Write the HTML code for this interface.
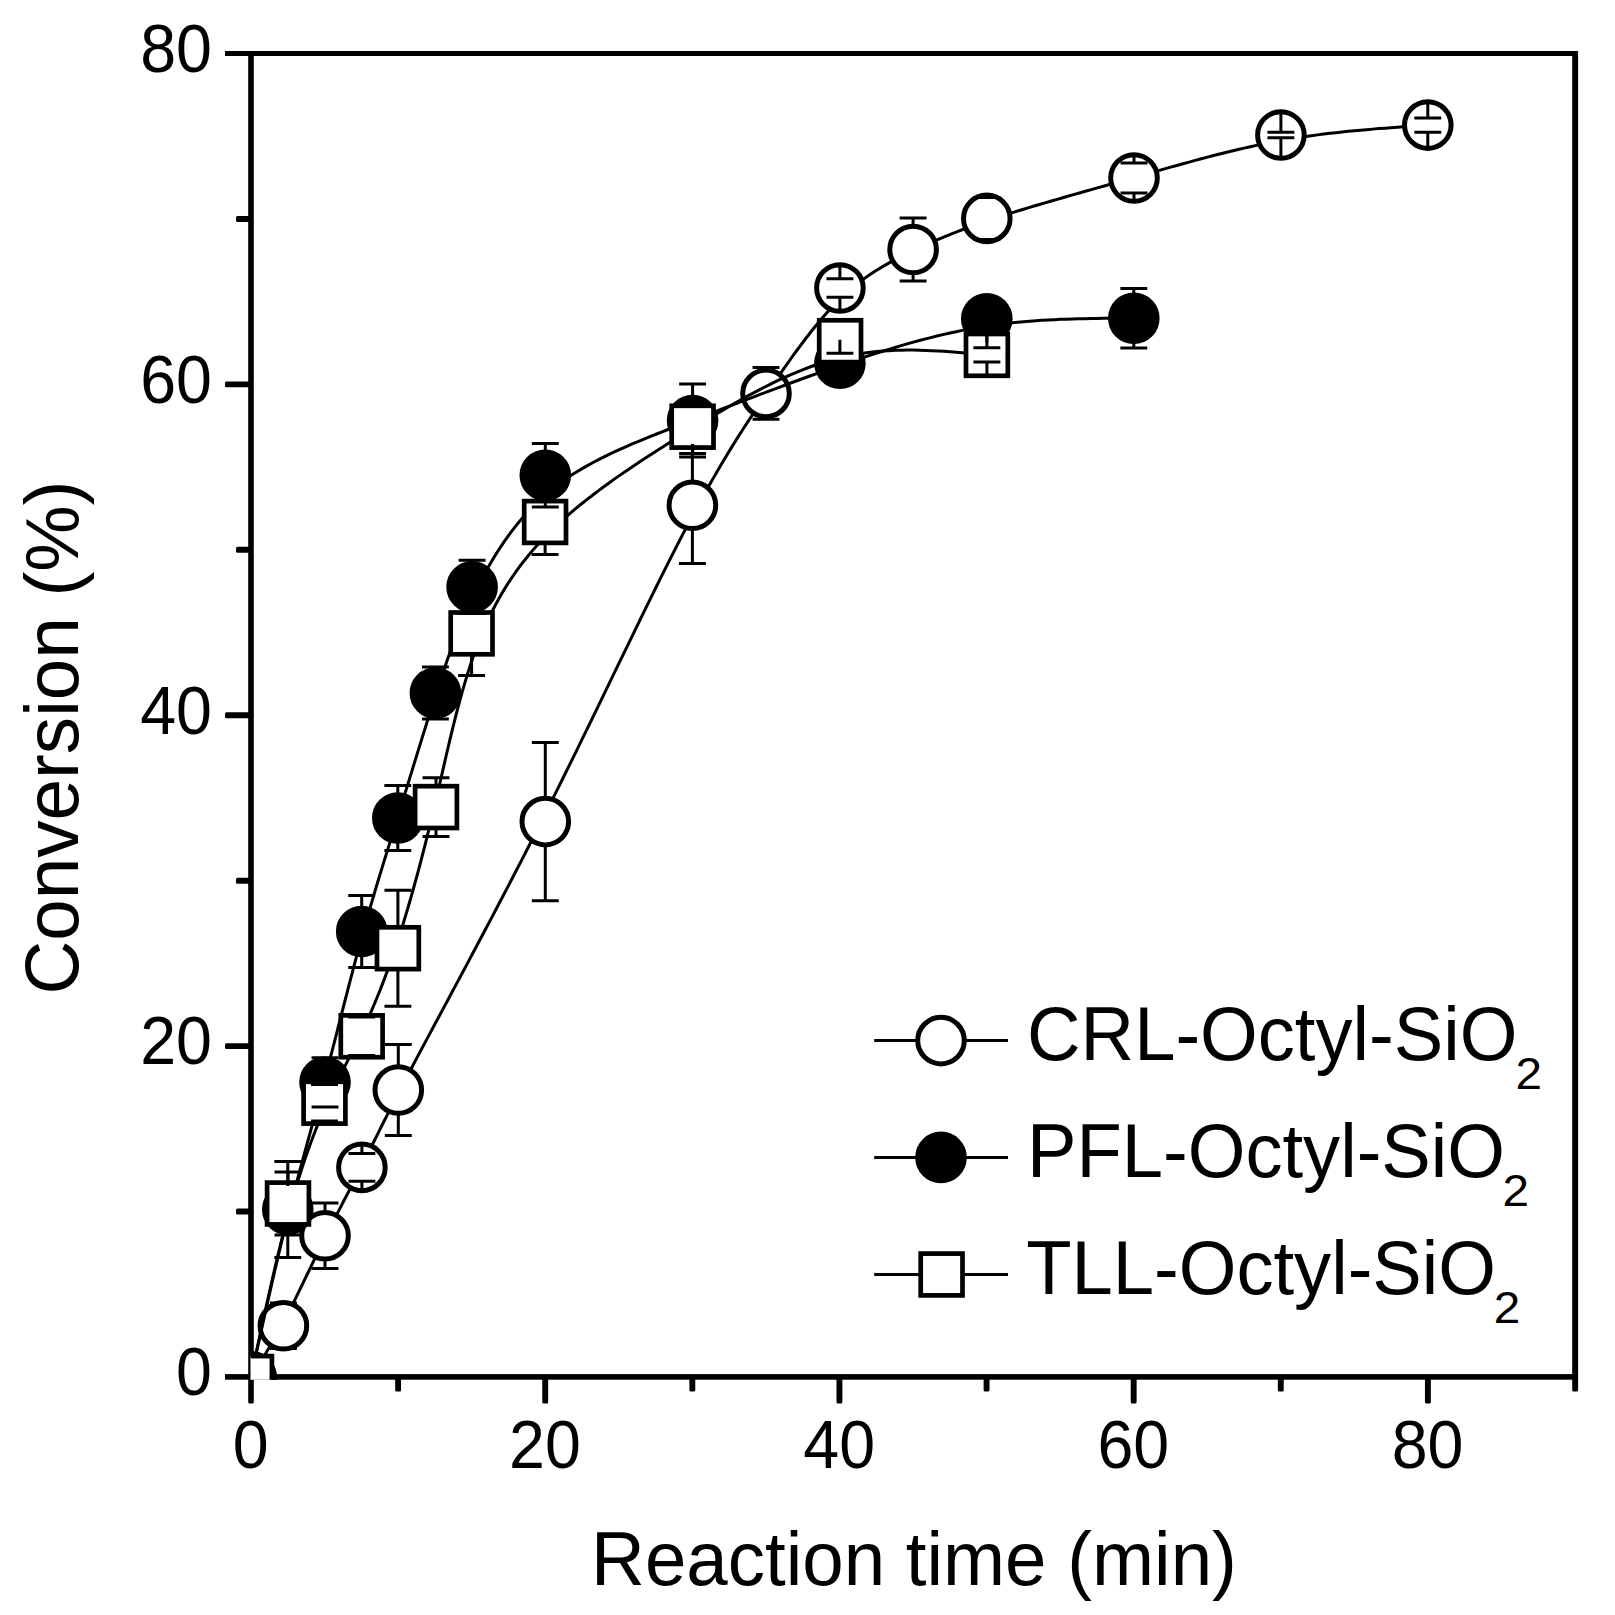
<!DOCTYPE html>
<html lang="en"><head><meta charset="utf-8"><title>Conversion vs reaction time</title>
<style>html,body{margin:0;padding:0;background:#fff}body{width:1615px;height:1615px;overflow:hidden}</style></head>
<body>
<svg width="1615" height="1615" viewBox="0 0 1615 1615" style="display:block">
<rect width="1615" height="1615" fill="#fff"/>
<defs><clipPath id="cp"><rect x="250.6" y="40" width="1340" height="1339.8"/></clipPath></defs>
<g fill="#000">
<rect x="248.2" y="51" width="5.6" height="1352.5" rx="1.5"/>
<rect x="225" y="51" width="1353" height="5"/>
<rect x="1572.2" y="51" width="5.9" height="1340.4" rx="1.5"/>
<rect x="225" y="1374.1" width="1352.8" height="5.6"/>
<rect x="395.16" y="1377" width="5.9" height="14.4" rx="1.5"/>
<rect x="542.27" y="1377" width="5.9" height="26.6" rx="1.5"/>
<rect x="689.38" y="1377" width="5.9" height="14.4" rx="1.5"/>
<rect x="836.49" y="1377" width="5.9" height="26.6" rx="1.5"/>
<rect x="983.61" y="1377" width="5.9" height="14.4" rx="1.5"/>
<rect x="1130.72" y="1377" width="5.9" height="26.6" rx="1.5"/>
<rect x="1277.83" y="1377" width="5.9" height="14.4" rx="1.5"/>
<rect x="1424.94" y="1377" width="5.9" height="26.6" rx="1.5"/>
<rect x="236" y="1208.61" width="15" height="5.9" rx="1.5"/>
<rect x="225" y="1043.17" width="26" height="5.9" rx="1.5"/>
<rect x="236" y="877.74" width="15" height="5.9" rx="1.5"/>
<rect x="225" y="712.3" width="26" height="5.9" rx="1.5"/>
<rect x="236" y="546.86" width="15" height="5.9" rx="1.5"/>
<rect x="225" y="381.43" width="26" height="5.9" rx="1.5"/>
<rect x="236" y="215.99" width="15" height="5.9" rx="1.5"/>
</g>
<g font-family="'Liberation Sans', Arial, sans-serif" fill="#000">
<text transform="translate(250.7 1468.1) scale(0.978 1.03)" font-size="66" text-anchor="middle">0</text>
<text transform="translate(544.92 1468.1) scale(0.978 1.03)" font-size="66" text-anchor="middle">20</text>
<text transform="translate(839.14 1468.1) scale(0.978 1.03)" font-size="66" text-anchor="middle">40</text>
<text transform="translate(1133.37 1468.1) scale(0.978 1.03)" font-size="66" text-anchor="middle">60</text>
<text transform="translate(1427.59 1468.1) scale(0.978 1.03)" font-size="66" text-anchor="middle">80</text>
<text transform="translate(212 1395.25) scale(0.978 1.03)" font-size="66" text-anchor="end">0</text>
<text transform="translate(212 1064.38) scale(0.978 1.03)" font-size="66" text-anchor="end">20</text>
<text transform="translate(212 733.5) scale(0.978 1.03)" font-size="66" text-anchor="end">40</text>
<text transform="translate(212 402.62) scale(0.978 1.03)" font-size="66" text-anchor="end">60</text>
<text transform="translate(212 71.75) scale(0.978 1.03)" font-size="66" text-anchor="end">80</text>
<text transform="translate(914 1584.6) scale(0.9934 1.018)" font-size="75" text-anchor="middle">Reaction time (min)</text>
<text transform="translate(78.3 737.6) rotate(-90) scale(0.9947 1.018)" font-size="75" text-anchor="middle">Conversion (%)</text>
</g>
<g clip-path="url(#cp)" stroke="#000" fill="none" stroke-linejoin="round">
<path d="M251 1377 L252.35 1374.87 L253.7 1372.73 L255.05 1370.59 L256.41 1368.44 L257.76 1366.27 L259.12 1364.1 L260.49 1361.91 L261.86 1359.69 L263.23 1357.46 L264.61 1355.2 L266 1352.91 L267.39 1350.59 L268.79 1348.24 L270.2 1345.85 L271.62 1343.42 L273.05 1340.95 L274.49 1338.43 L275.95 1335.86 L277.41 1333.25 L278.89 1330.58 L280.38 1327.86 L281.88 1325.07 L283.4 1322.23 L284.93 1319.32 L286.48 1316.34 L288.05 1313.3 L289.63 1310.2 L291.22 1307.05 L292.82 1303.85 L294.43 1300.6 L296.06 1297.31 L297.69 1293.98 L299.33 1290.62 L300.98 1287.23 L302.63 1283.82 L304.29 1280.39 L305.96 1276.95 L307.62 1273.49 L309.29 1270.03 L310.96 1266.57 L312.63 1263.11 L314.29 1259.66 L315.96 1256.21 L317.62 1252.79 L319.28 1249.38 L320.93 1246 L322.58 1242.65 L324.22 1239.33 L325.85 1236.05 L327.47 1232.81 L329.09 1229.59 L330.7 1226.41 L332.3 1223.26 L333.89 1220.13 L335.48 1217.03 L337.06 1213.95 L338.64 1210.89 L340.21 1207.85 L341.78 1204.83 L343.34 1201.81 L344.9 1198.81 L346.45 1195.82 L348 1192.83 L349.55 1189.85 L351.09 1186.87 L352.63 1183.89 L354.16 1180.91 L355.7 1177.92 L357.23 1174.93 L358.76 1171.93 L360.29 1168.91 L361.82 1165.88 L363.34 1162.84 L364.88 1159.76 L366.43 1156.65 L368 1153.47 L369.61 1150.23 L371.25 1146.91 L372.94 1143.5 L374.69 1139.97 L376.5 1136.33 L378.38 1132.55 L380.34 1128.62 L382.39 1124.53 L384.54 1120.27 L386.79 1115.82 L389.15 1111.17 L391.63 1106.31 L394.23 1101.22 L396.98 1095.9 L399.86 1090.32 L402.9 1084.47 L406.1 1078.35 L409.46 1071.93 L413.01 1065.21 L416.73 1058.17 L420.65 1050.8 L424.75 1043.11 L429.02 1035.11 L433.47 1026.81 L438.07 1018.22 L442.83 1009.35 L447.73 1000.21 L452.76 990.81 L457.93 981.16 L463.21 971.27 L468.61 961.16 L474.11 950.82 L479.7 940.28 L485.39 929.55 L491.15 918.62 L496.99 907.52 L502.89 896.26 L508.85 884.83 L514.85 873.27 L520.89 861.57 L526.97 849.74 L533.07 837.8 L539.19 825.75 L545.32 813.62 L551.44 801.4 L557.56 789.11 L563.67 776.78 L569.77 764.42 L575.84 752.05 L581.89 739.69 L587.91 727.35 L593.88 715.06 L599.82 702.83 L605.71 690.69 L611.54 678.64 L617.32 666.71 L623.03 654.92 L628.68 643.28 L634.25 631.81 L639.74 620.53 L645.14 609.46 L650.46 598.62 L655.68 588.03 L660.79 577.69 L665.81 567.64 L670.71 557.89 L675.49 548.46 L680.15 539.37 L684.69 530.62 L689.1 522.22 L693.39 514.14 L697.58 506.37 L701.66 498.9 L705.63 491.71 L709.51 484.8 L713.31 478.13 L717.01 471.71 L720.64 465.52 L724.19 459.53 L727.68 453.74 L731.1 448.14 L734.46 442.7 L737.77 437.42 L741.03 432.28 L744.25 427.27 L747.43 422.36 L750.58 417.56 L753.71 412.83 L756.81 408.18 L759.9 403.58 L762.98 399.02 L766.05 394.48 L769.12 389.96 L772.2 385.46 L775.27 380.97 L778.35 376.51 L781.42 372.08 L784.49 367.68 L787.57 363.32 L790.64 359 L793.72 354.73 L796.79 350.5 L799.87 346.34 L802.94 342.23 L806.02 338.18 L809.09 334.21 L812.16 330.3 L815.23 326.48 L818.31 322.73 L821.38 319.07 L824.45 315.5 L827.52 312.02 L830.58 308.65 L833.65 305.37 L836.72 302.21 L839.78 299.15 L842.85 296.21 L845.91 293.38 L848.97 290.66 L852.03 288.04 L855.09 285.52 L858.15 283.1 L861.21 280.76 L864.27 278.52 L867.33 276.35 L870.38 274.26 L873.44 272.24 L876.5 270.3 L879.55 268.42 L882.61 266.59 L885.66 264.83 L888.72 263.11 L891.78 261.44 L894.83 259.82 L897.89 258.23 L900.95 256.68 L904.01 255.16 L907.06 253.66 L910.12 252.19 L913.18 250.73 L916.25 249.29 L919.31 247.86 L922.39 246.44 L925.49 245.02 L928.61 243.62 L931.75 242.22 L934.93 240.83 L938.15 239.44 L941.4 238.06 L944.71 236.67 L948.07 235.29 L951.49 233.91 L954.98 232.53 L958.53 231.14 L962.16 229.75 L965.87 228.35 L969.66 226.95 L973.54 225.54 L977.52 224.12 L981.61 222.69 L985.79 221.25 L990.09 219.8 L994.51 218.33 L999.05 216.85 L1003.71 215.35 L1008.5 213.84 L1013.41 212.31 L1018.42 210.77 L1023.54 209.21 L1028.77 207.64 L1034.09 206.06 L1039.49 204.46 L1044.99 202.85 L1050.56 201.23 L1056.21 199.6 L1061.92 197.95 L1067.7 196.3 L1073.54 194.64 L1079.43 192.96 L1085.37 191.28 L1091.35 189.59 L1097.37 187.9 L1103.42 186.19 L1109.49 184.48 L1115.59 182.76 L1121.7 181.04 L1127.82 179.31 L1133.95 177.58 L1140.08 175.84 L1146.2 174.1 L1152.33 172.36 L1158.45 170.62 L1164.58 168.89 L1170.7 167.17 L1176.83 165.46 L1182.95 163.76 L1189.08 162.08 L1195.2 160.42 L1201.32 158.78 L1207.44 157.16 L1213.57 155.57 L1219.69 154.01 L1225.81 152.48 L1231.93 150.98 L1238.05 149.52 L1244.17 148.1 L1250.3 146.72 L1256.42 145.39 L1262.54 144.1 L1268.66 142.87 L1274.78 141.68 L1280.9 140.55 L1287.02 139.48 L1293.14 138.46 L1299.26 137.49 L1305.38 136.57 L1311.5 135.71 L1317.62 134.88 L1323.75 134.1 L1329.87 133.36 L1335.99 132.66 L1342.11 132 L1348.23 131.36 L1354.35 130.76 L1360.47 130.19 L1366.59 129.64 L1372.71 129.12 L1378.83 128.62 L1384.95 128.14 L1391.08 127.67 L1397.2 127.22 L1403.32 126.78 L1409.44 126.35 L1415.56 125.93 L1421.68 125.51 L1427.8 125.1" stroke-width="3.0"/>
<circle cx="251" cy="1377" r="23.3" fill="#fff" stroke-width="5.0"/>
<circle cx="283.4" cy="1325.8" r="23.3" fill="#fff" stroke-width="5.0"/>
<circle cx="325" cy="1235.7" r="23.3" fill="#fff" stroke-width="5.0"/>
<circle cx="361.9" cy="1167.4" r="23.3" fill="#fff" stroke-width="5.0"/>
<circle cx="398.3" cy="1090" r="23.3" fill="#fff" stroke-width="5.0"/>
<circle cx="545.3" cy="821.6" r="23.3" fill="#fff" stroke-width="5.0"/>
<circle cx="692.4" cy="505.3" r="23.3" fill="#fff" stroke-width="5.0"/>
<circle cx="766" cy="393.4" r="23.3" fill="#fff" stroke-width="5.0"/>
<circle cx="839.9" cy="288" r="23.3" fill="#fff" stroke-width="5.0"/>
<circle cx="913.1" cy="249.5" r="23.3" fill="#fff" stroke-width="5.0"/>
<circle cx="986.8" cy="218.4" r="23.3" fill="#fff" stroke-width="5.0"/>
<circle cx="1134" cy="178" r="23.3" fill="#fff" stroke-width="5.0"/>
<circle cx="1280.9" cy="135.05" r="23.3" fill="#fff" stroke-width="5.0"/>
<circle cx="1427.8" cy="125.1" r="23.3" fill="#fff" stroke-width="5.0"/>
<path d="M251 1377 L252.53 1370.03 L254.07 1363.05 L255.6 1356.09 L257.13 1349.13 L258.67 1342.19 L260.2 1335.25 L261.73 1328.34 L263.27 1321.45 L264.8 1314.58 L266.34 1307.73 L267.87 1300.92 L269.41 1294.14 L270.94 1287.39 L272.48 1280.68 L274.02 1274.01 L275.55 1267.38 L277.09 1260.8 L278.63 1254.27 L280.17 1247.79 L281.71 1241.37 L283.24 1235 L284.78 1228.7 L286.33 1222.46 L287.87 1216.28 L289.41 1210.18 L290.95 1204.14 L292.49 1198.16 L294.04 1192.23 L295.58 1186.36 L297.13 1180.53 L298.67 1174.75 L300.22 1169 L301.76 1163.29 L303.31 1157.6 L304.85 1151.94 L306.4 1146.3 L307.94 1140.67 L309.49 1135.05 L311.03 1129.43 L312.58 1123.82 L314.12 1118.2 L315.67 1112.58 L317.21 1106.94 L318.75 1101.28 L320.29 1095.6 L321.84 1089.9 L323.38 1084.16 L324.92 1078.38 L326.46 1072.57 L327.99 1066.72 L329.53 1060.84 L331.07 1054.93 L332.6 1049 L334.14 1043.04 L335.67 1037.08 L337.2 1031.1 L338.74 1025.12 L340.27 1019.14 L341.8 1013.16 L343.33 1007.19 L344.86 1001.23 L346.38 995.28 L347.91 989.36 L349.43 983.46 L350.96 977.6 L352.48 971.76 L354 965.97 L355.53 960.21 L357.05 954.51 L358.56 948.85 L360.08 943.25 L361.6 937.72 L363.12 932.24 L364.63 926.83 L366.15 921.47 L367.66 916.17 L369.17 910.92 L370.69 905.72 L372.2 900.56 L373.71 895.44 L375.23 890.36 L376.74 885.3 L378.25 880.28 L379.77 875.29 L381.28 870.32 L382.8 865.36 L384.32 860.43 L385.84 855.5 L387.36 850.58 L388.88 845.67 L390.4 840.76 L391.93 835.85 L393.45 830.93 L394.98 826 L396.52 821.06 L398.05 816.1 L399.59 811.12 L401.13 806.13 L402.67 801.12 L404.21 796.1 L405.76 791.06 L407.3 786.02 L408.85 780.97 L410.4 775.92 L411.95 770.86 L413.51 765.81 L415.06 760.75 L416.61 755.7 L418.17 750.66 L419.72 745.62 L421.28 740.6 L422.83 735.59 L424.39 730.59 L425.94 725.61 L427.49 720.65 L429.05 715.71 L430.6 710.8 L432.15 705.91 L433.7 701.05 L435.25 696.22 L436.8 691.42 L438.35 686.65 L439.9 681.91 L441.46 677.2 L443.03 672.51 L444.61 667.85 L446.2 663.21 L447.81 658.59 L449.45 653.99 L451.1 649.4 L452.78 644.83 L454.49 640.28 L456.23 635.73 L458 631.2 L459.81 626.67 L461.66 622.15 L463.55 617.63 L465.49 613.12 L467.47 608.61 L469.5 604.09 L471.59 599.58 L473.73 595.06 L475.92 590.53 L478.18 586 L480.51 581.46 L482.89 576.91 L485.35 572.37 L487.88 567.82 L490.48 563.29 L493.16 558.77 L495.92 554.27 L498.76 549.78 L501.69 545.33 L504.7 540.91 L507.81 536.52 L511 532.17 L514.3 527.87 L517.69 523.62 L521.19 519.42 L524.78 515.28 L528.49 511.2 L532.31 507.19 L536.23 503.25 L540.28 499.38 L544.44 495.6 L548.72 491.9 L553.12 488.3 L557.65 484.78 L562.31 481.37 L567.09 478.05 L571.99 474.81 L577 471.67 L582.12 468.61 L587.34 465.62 L592.65 462.71 L598.06 459.86 L603.55 457.08 L609.13 454.36 L614.78 451.69 L620.49 449.08 L626.28 446.52 L632.12 443.99 L638.01 441.51 L643.96 439.06 L649.94 436.64 L655.97 434.24 L662.02 431.87 L668.11 429.51 L674.21 427.17 L680.33 424.83 L686.46 422.5 L692.6 420.17 L698.74 417.83 L704.87 415.49 L711.01 413.15 L717.15 410.81 L723.29 408.47 L729.42 406.13 L735.56 403.79 L741.7 401.45 L747.83 399.12 L753.97 396.79 L760.11 394.47 L766.24 392.16 L772.38 389.86 L778.51 387.56 L784.65 385.28 L790.78 383.01 L796.91 380.75 L803.05 378.51 L809.18 376.28 L815.31 374.07 L821.44 371.88 L827.57 369.71 L833.7 367.55 L839.83 365.42 L845.96 363.31 L852.09 361.22 L858.22 359.16 L864.34 357.13 L870.47 355.13 L876.6 353.16 L882.72 351.23 L888.85 349.33 L894.97 347.48 L901.1 345.67 L907.22 343.9 L913.34 342.18 L919.47 340.51 L925.59 338.9 L931.71 337.33 L937.84 335.82 L943.96 334.37 L950.08 332.98 L956.2 331.66 L962.33 330.4 L968.45 329.2 L974.57 328.08 L980.69 327.03 L986.82 326.05 L992.94 325.15 L999.06 324.32 L1005.19 323.56 L1011.31 322.87 L1017.43 322.24 L1023.56 321.68 L1029.68 321.17 L1035.8 320.71 L1041.93 320.31 L1048.05 319.95 L1054.18 319.64 L1060.3 319.37 L1066.43 319.14 L1072.55 318.94 L1078.68 318.78 L1084.8 318.64 L1090.93 318.53 L1097.05 318.44 L1103.18 318.37 L1109.3 318.32 L1115.43 318.28 L1121.55 318.25 L1127.68 318.22 L1133.8 318.2" stroke-width="3.0"/>
<circle cx="251" cy="1377" r="23.3" fill="#000" stroke-width="5.0"/>
<circle cx="287.8" cy="1209.6" r="23.3" fill="#000" stroke-width="5.0"/>
<circle cx="325" cy="1082.3" r="23.3" fill="#000" stroke-width="5.0"/>
<circle cx="361.7" cy="931.5" r="23.3" fill="#000" stroke-width="5.0"/>
<circle cx="397.8" cy="818" r="23.3" fill="#000" stroke-width="5.0"/>
<circle cx="435.4" cy="693.1" r="23.3" fill="#000" stroke-width="5.0"/>
<circle cx="472.1" cy="586.9" r="23.3" fill="#000" stroke-width="5.0"/>
<circle cx="545.3" cy="475.3" r="23.3" fill="#000" stroke-width="5.0"/>
<circle cx="692.6" cy="420.6" r="23.3" fill="#000" stroke-width="5.0"/>
<circle cx="839.9" cy="363.3" r="23.3" fill="#000" stroke-width="5.0"/>
<circle cx="986.8" cy="318.7" r="23.3" fill="#000" stroke-width="5.0"/>
<circle cx="1133.8" cy="318.2" r="23.3" fill="#000" stroke-width="5.0"/>
<path d="M251 1377 L252.54 1369.77 L254.08 1362.55 L255.62 1355.34 L257.17 1348.14 L258.71 1340.96 L260.25 1333.81 L261.79 1326.7 L263.33 1319.62 L264.87 1312.58 L266.41 1305.58 L267.95 1298.65 L269.49 1291.76 L271.03 1284.95 L272.57 1278.2 L274.1 1271.52 L275.64 1264.92 L277.18 1258.41 L278.71 1251.99 L280.25 1245.66 L281.79 1239.43 L283.32 1233.3 L284.85 1227.29 L286.38 1221.39 L287.92 1215.62 L289.45 1209.96 L290.98 1204.44 L292.51 1199.03 L294.04 1193.74 L295.56 1188.56 L297.09 1183.5 L298.62 1178.55 L300.15 1173.7 L301.67 1168.96 L303.2 1164.32 L304.73 1159.78 L306.25 1155.33 L307.78 1150.98 L309.31 1146.71 L310.84 1142.54 L312.36 1138.45 L313.89 1134.44 L315.42 1130.51 L316.95 1126.65 L318.48 1122.87 L320.02 1119.16 L321.55 1115.52 L323.08 1111.95 L324.62 1108.43 L326.15 1104.98 L327.69 1101.58 L329.23 1098.23 L330.77 1094.93 L332.31 1091.68 L333.85 1088.46 L335.39 1085.28 L336.93 1082.13 L338.47 1079.01 L340.01 1075.91 L341.55 1072.83 L343.09 1069.76 L344.63 1066.71 L346.18 1063.66 L347.72 1060.62 L349.25 1057.57 L350.79 1054.52 L352.33 1051.46 L353.87 1048.39 L355.4 1045.3 L356.94 1042.19 L358.47 1039.05 L360 1035.88 L361.53 1032.68 L363.06 1029.45 L364.59 1026.17 L366.11 1022.85 L367.64 1019.48 L369.16 1016.07 L370.68 1012.61 L372.21 1009.1 L373.73 1005.53 L375.25 1001.91 L376.77 998.23 L378.3 994.5 L379.82 990.69 L381.34 986.83 L382.87 982.89 L384.39 978.89 L385.92 974.82 L387.45 970.67 L388.98 966.44 L390.51 962.14 L392.05 957.75 L393.59 953.29 L395.13 948.74 L396.67 944.1 L398.22 939.37 L399.77 934.55 L401.32 929.63 L402.87 924.63 L404.43 919.55 L405.99 914.37 L407.55 909.11 L409.11 903.77 L410.68 898.35 L412.24 892.84 L413.81 887.26 L415.37 881.6 L416.94 875.87 L418.5 870.06 L420.07 864.17 L421.63 858.22 L423.19 852.2 L424.75 846.1 L426.3 839.94 L427.86 833.72 L429.41 827.43 L430.96 821.08 L432.5 814.67 L434.05 808.2 L435.58 801.67 L437.12 795.08 L438.65 788.45 L440.18 781.77 L441.72 775.05 L443.27 768.31 L444.82 761.55 L446.39 754.76 L447.98 747.97 L449.58 741.18 L451.21 734.4 L452.86 727.62 L454.54 720.87 L456.25 714.14 L457.99 707.44 L459.77 700.79 L461.59 694.18 L463.45 687.62 L465.36 681.12 L467.31 674.69 L469.32 668.33 L471.38 662.06 L473.5 655.87 L475.68 649.78 L477.92 643.78 L480.22 637.9 L482.6 632.12 L485.04 626.44 L487.56 620.85 L490.16 615.37 L492.83 609.97 L495.59 604.67 L498.43 599.44 L501.36 594.3 L504.37 589.24 L507.48 584.25 L510.68 579.33 L513.98 574.48 L517.38 569.7 L520.88 564.98 L524.49 560.31 L528.2 555.7 L532.03 551.14 L535.96 546.63 L540.02 542.17 L544.19 537.74 L548.48 533.36 L552.89 529 L557.43 524.68 L562.1 520.39 L566.89 516.13 L571.8 511.89 L576.82 507.68 L581.95 503.49 L587.18 499.33 L592.5 495.2 L597.92 491.09 L603.42 487 L609.01 482.94 L614.66 478.9 L620.39 474.89 L626.18 470.9 L632.03 466.93 L637.94 462.98 L643.89 459.05 L649.89 455.14 L655.92 451.26 L661.98 447.39 L668.07 443.54 L674.19 439.71 L680.32 435.9 L686.46 432.11 L692.6 428.33 L698.75 424.58 L704.89 420.84 L711.04 417.14 L717.18 413.47 L723.33 409.85 L729.47 406.27 L735.62 402.75 L741.76 399.3 L747.91 395.91 L754.05 392.6 L760.19 389.36 L766.34 386.22 L772.48 383.17 L778.62 380.22 L784.76 377.39 L790.9 374.66 L797.04 372.05 L803.18 369.58 L809.31 367.23 L815.45 365.03 L821.58 362.97 L827.72 361.06 L833.85 359.31 L839.98 357.73 L846.11 356.32 L852.24 355.08 L858.37 353.99 L864.5 353.05 L870.63 352.26 L876.75 351.6 L882.88 351.07 L889 350.67 L895.12 350.37 L901.24 350.19 L907.36 350.11 L913.49 350.12 L919.61 350.21 L925.72 350.39 L931.84 350.63 L937.96 350.95 L944.08 351.31 L950.2 351.73 L956.32 352.2 L962.43 352.69 L968.55 353.22 L974.67 353.77 L980.78 354.33 L986.9 354.9" stroke-width="3.0"/>
<rect x="230.1" y="1356.1" width="41.8" height="41.8" fill="#fff" stroke-width="4.7" stroke-linejoin="miter"/>
<rect x="267.1" y="1182.6" width="41.8" height="41.8" fill="#fff" stroke-width="4.7" stroke-linejoin="miter"/>
<rect x="303.6" y="1081.8" width="41.8" height="41.8" fill="#fff" stroke-width="4.7" stroke-linejoin="miter"/>
<rect x="340.8" y="1015.4" width="41.8" height="41.8" fill="#fff" stroke-width="4.7" stroke-linejoin="miter"/>
<rect x="377" y="927.3" width="41.8" height="41.8" fill="#fff" stroke-width="4.7" stroke-linejoin="miter"/>
<rect x="415.1" y="786.2" width="41.8" height="41.8" fill="#fff" stroke-width="4.7" stroke-linejoin="miter"/>
<rect x="450.7" y="612.5" width="41.8" height="41.8" fill="#fff" stroke-width="4.7" stroke-linejoin="miter"/>
<rect x="524.2" y="501.1" width="41.8" height="41.8" fill="#fff" stroke-width="4.7" stroke-linejoin="miter"/>
<rect x="671.7" y="405.8" width="41.8" height="41.8" fill="#fff" stroke-width="4.7" stroke-linejoin="miter"/>
<rect x="819.2" y="320.3" width="41.8" height="41.8" fill="#fff" stroke-width="4.7" stroke-linejoin="miter"/>
<rect x="966" y="334" width="41.8" height="41.8" fill="#fff" stroke-width="4.7" stroke-linejoin="miter"/>
<path d="M269.95 1303H296.85M283.4 1301.8V1303M269.95 1348.6H296.85M283.4 1349.8V1348.6M311.55 1203H338.45M325 1211.7V1203M311.55 1268.4H338.45M325 1259.7V1268.4M348.45 1153.45H375.35M361.9 1143.4V1153.45M348.45 1181.35H375.35M361.9 1191.4V1181.35M384.85 1044.6H411.75M398.3 1066V1044.6M384.85 1135.4H411.75M398.3 1114V1135.4M531.85 742.4H558.75M545.3 797.6V742.4M531.85 900.8H558.75M545.3 845.6V900.8M678.95 447.2H705.85M692.4 481.3V447.2M678.95 563.4H705.85M692.4 529.3V563.4M752.55 367.6H779.45M766 369.4V367.6M752.55 419.2H779.45M766 417.4V419.2M826.45 278.7H853.35M839.9 264V278.7M826.45 297.3H853.35M839.9 312V297.3M899.65 218.1H926.55M913.1 225.5V218.1M899.65 280.9H926.55M913.1 273.5V280.9M973.35 197.4H1000.25M986.8 194.4V197.4M973.35 239.4H1000.25M986.8 242.4V239.4M1120.55 162.9H1147.45M1134 154V162.9M1120.55 193.1H1147.45M1134 202V193.1M1267.45 132.25H1294.35M1280.9 111.05V132.25M1267.45 137.85H1294.35M1280.9 159.05V137.85M1414.35 118H1441.25M1427.8 101.1V118M1414.35 132.2H1441.25M1427.8 149.1V132.2" stroke-width="3.0"/>
<path d="M274.35 1161.6H301.25M287.8 1186.1V1161.6M274.35 1257.6H301.25M287.8 1233.1V1257.6M311.55 1057.7H338.45M325 1058.8V1057.7M311.55 1106.9H338.45M325 1105.8V1106.9M348.25 895.6H375.15M361.7 908V895.6M348.25 967.4H375.15M361.7 955V967.4M384.35 785.5H411.25M397.8 794.5V785.5M384.35 850.5H411.25M397.8 841.5V850.5M421.95 667.1H448.85M435.4 669.6V667.1M421.95 719.1H448.85M435.4 716.6V719.1M458.65 560.3H485.55M472.1 563.4V560.3M458.65 613.5H485.55M472.1 610.4V613.5M531.85 443.5H558.75M545.3 451.8V443.5M531.85 507.1H558.75M545.3 498.8V507.1M679.15 384.1H706.05M692.6 397.1V384.1M679.15 457.1H706.05M692.6 444.1V457.1M826.45 353.2H853.35M839.9 339.8V353.2M826.45 373.4H853.35M839.9 386.8V373.4M973.35 303.7H1000.25M986.8 295.2V303.7M973.35 333.7H1000.25M986.8 342.2V333.7M1120.35 288.5H1147.25M1133.8 294.7V288.5M1120.35 347.9H1147.25M1133.8 341.7V347.9" stroke-width="3.0"/>
<path d="M274.55 1171.9H301.45M288 1183.5V1171.9M274.55 1235.1H301.45M288 1223.5V1235.1M311.05 1084.4H337.95M324.5 1082.7V1084.4M311.05 1121H337.95M324.5 1122.7V1121M348.25 1017H375.15M361.7 1016.3V1017M348.25 1055.6H375.15M361.7 1056.3V1055.6M384.45 890.2H411.35M397.9 928.2V890.2M384.45 1006.2H411.35M397.9 968.2V1006.2M422.55 777.7H449.45M436 787.1V777.7M422.55 836.5H449.45M436 827.1V836.5M458.15 591.3H485.05M471.6 613.4V591.3M458.15 675.5H485.05M471.6 653.4V675.5M531.65 489.6H558.55M545.1 502V489.6M531.65 554.4H558.55M545.1 542V554.4M679.15 399.9H706.05M692.6 406.7V399.9M679.15 453.5H706.05M692.6 446.7V453.5M826.65 320.6H853.55M840.1 321.2V320.6M826.65 361.8H853.55M840.1 361.2V361.8M973.45 347.7H1000.35M986.9 334.9V347.7M973.45 362.1H1000.35M986.9 374.9V362.1" stroke-width="3.0"/>
</g>
<g stroke="#000" fill="none">
<path d="M874.2 1040.6H1008" stroke-width="3.0"/>
<path d="M874.2 1157.4H1008" stroke-width="3.0"/>
<path d="M874.2 1274.5H1008" stroke-width="3.0"/>
<circle cx="941" cy="1040.6" r="23.3" fill="#fff" stroke-width="5.0"/>
<circle cx="941" cy="1157.4" r="23.3" fill="#000" stroke-width="5.0"/>
<rect x="920.7" y="1253.6" width="41.8" height="41.8" fill="#fff" stroke-width="4.7"/>
</g>
<g font-family="'Liberation Sans', Arial, sans-serif" fill="#000">
<text transform="translate(1027 1060) scale(0.989 1.018)" font-size="75" text-anchor="start">CRL-Octyl-SiO</text>
<text transform="translate(1515.5 1089.4) scale(1.085 1.02)" font-size="44" text-anchor="start">2</text>
<text transform="translate(1027 1176.8) scale(0.989 1.018)" font-size="75" text-anchor="start">PFL-Octyl-SiO</text>
<text transform="translate(1502.5 1206.2) scale(1.085 1.02)" font-size="44" text-anchor="start">2</text>
<text transform="translate(1026.2 1293.9) scale(0.989 1.018)" font-size="75" text-anchor="start">TLL-Octyl-SiO</text>
<text transform="translate(1493.8 1323.3) scale(1.085 1.02)" font-size="44" text-anchor="start">2</text>
</g>
</svg>
</body></html>
